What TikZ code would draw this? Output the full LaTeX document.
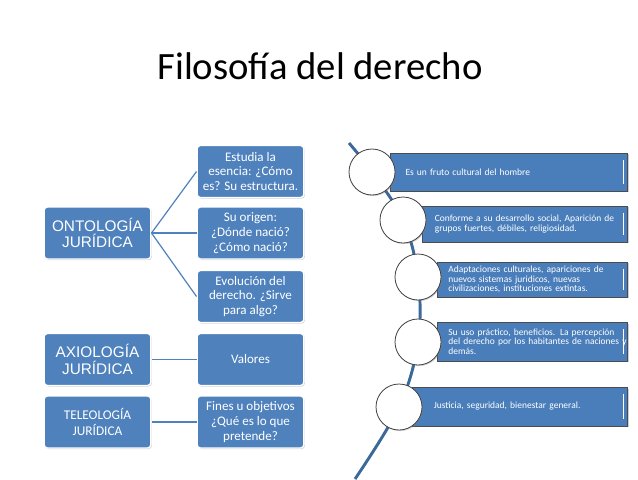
\documentclass[tikz,border=0pt]{standalone}
\usepackage{fontspec}
\setmainfont{Carlito}
\newfontfamily\arialfont{Liberation Sans}
\usetikzlibrary{shadows,positioning}
\definecolor{boxblue}{HTML}{4F81BD}
\definecolor{barblue}{HTML}{4A7EBB}
\definecolor{lineblue}{HTML}{3B6A9A}
\tikzset
{
    topic/.style  = {rectangle, rounded corners=2.5pt, fill=boxblue, draw=white, line width=1pt, text=white, align=center, minimum width=80pt, minimum height=39pt, inner sep=1pt, drop shadow={opacity=0.35, shadow xshift=0.8pt, shadow yshift=-0.8pt}},
    detail/.style = {topic, font=\fontsize{9.8}{11}\selectfont},
    link/.style   = {draw=boxblue, line width=0.9pt},
    band/.style   = {rectangle, fill=barblue, draw=black!70, line width=0.5pt, text=white, align=left, anchor=west, inner ysep=0pt, font=\fontsize{7.1}{7.3}\selectfont, drop shadow={opacity=0.4, shadow xshift=1pt, shadow yshift=-1pt},
                     path picture={\draw[white, line width=0.8pt] ([xshift=-3pt,yshift=-5pt]path picture bounding box.north east) -- ([xshift=-3pt,yshift=5pt]path picture bounding box.south east);}},
    bubble/.style = {circle, fill=white, draw=black!75, line width=0.6pt, minimum size=34.5pt, inner sep=0pt, drop shadow={opacity=0.35, shadow xshift=0.8pt, shadow yshift=-0.8pt}}
}

\begin{document}
\begin{tikzpicture}[x=0.75pt, y=-0.75pt]
	\useasboundingbox (0,0) rectangle (638,479);
	\node (title) at (320,66) {\fontsize{29}{34}\selectfont Filosofía del derecho};

	% left tree
	\node (onto)    [topic, font=\arialfont\fontsize{11.5}{12.5}\selectfont] at (97.5,233)   {ONTOLOGÍA\\JURÍDICA};
	\node (axio)    [topic, font=\arialfont\fontsize{11.5}{12.5}\selectfont] at (97.5,359.5) {AXIOLOGÍA\\JURÍDICA};
	\node (teleo)   [topic, font=\fontsize{10}{12}\selectfont] at (97.5,422) {TELEOLOGÍA\\JURÍDICA};
	\node (estudia) [detail] at (250.5,171.5) {Estudia la\\esencia: ¿Cómo\\es? Su estructura.};
	\node (origen)  [detail] at (250.5,233)   {Su origen:\\¿Dónde nació?\\¿Cómo nació?};
	\node (evol)    [detail] at (250.5,296.5) {Evolución del\\derecho. ¿Sirve\\para algo?};
	\node (valores) [detail] at (250.5,359.5) {Valores};
	\node (fines)   [detail] at (250.5,422)   {Fines u objetivos\\¿Qué es lo que\\pretende?};

	\draw [link] (onto.east) -- (estudia.west);
	\draw [link] (onto.east) -- (origen.west);
	\draw [link] (onto.east) -- (evol.west);
	\draw [link] (axio) -- (valores);
	\draw [link] (teleo) -- (fines);

	% right timeline
	\coordinate (top) at (349,143);
	\coordinate (bot) at (355,479);
	\draw [lineblue, line width=2.2pt] plot [smooth, tension=0.6] coordinates {(top) (372,172) (403,220) (418,277) (418,342) (399,407) (bot)};

	\node (b1) [band, minimum width=177.75pt, minimum height=28.5pt, inner xsep=11pt, text width=155pt] at (390,172) {Es un fruto cultural del hombre};
	\node (b2) [band, minimum width=153.75pt, minimum height=27pt, inner xsep=9pt, text width=135pt] at (422,224) {\mbox{Conforme a su desarrollo social, Aparición de}\\grupos fuertes, débiles, religiosidad.};
	\node (b3) [band, minimum width=142.5pt, minimum height=26.25pt, inner xsep=8pt, text width=126pt] at (437,279.5) {\mbox{Adaptaciones culturales, apariciones de}\\nuevos sistemas juridicos, nuevas\\civilizaciones, instituciones extintas.};
	\node (b4) [band, minimum width=142.5pt, minimum height=29pt, inner xsep=8pt, text width=126pt] at (437,341.5) {\mbox{Su uso práctico, beneficios. La percepción}\\\mbox{del derecho por los habitantes de naciones y}\\demás.};
	\node (b5) [band, minimum width=161.25pt, minimum height=29pt, inner xsep=16pt, text width=129pt] at (412,406.5) {Justicia, seguridad, bienestar general.};

	\node (c1) [bubble] at (372,172) {};
	\node (c2) [bubble] at (403,220) {};
	\node (c3) [bubble] at (418,277) {};
	\node (c4) [bubble] at (418,342) {};
	\node (c5) [bubble] at (399,407) {};
\end{tikzpicture}
\end{document}
